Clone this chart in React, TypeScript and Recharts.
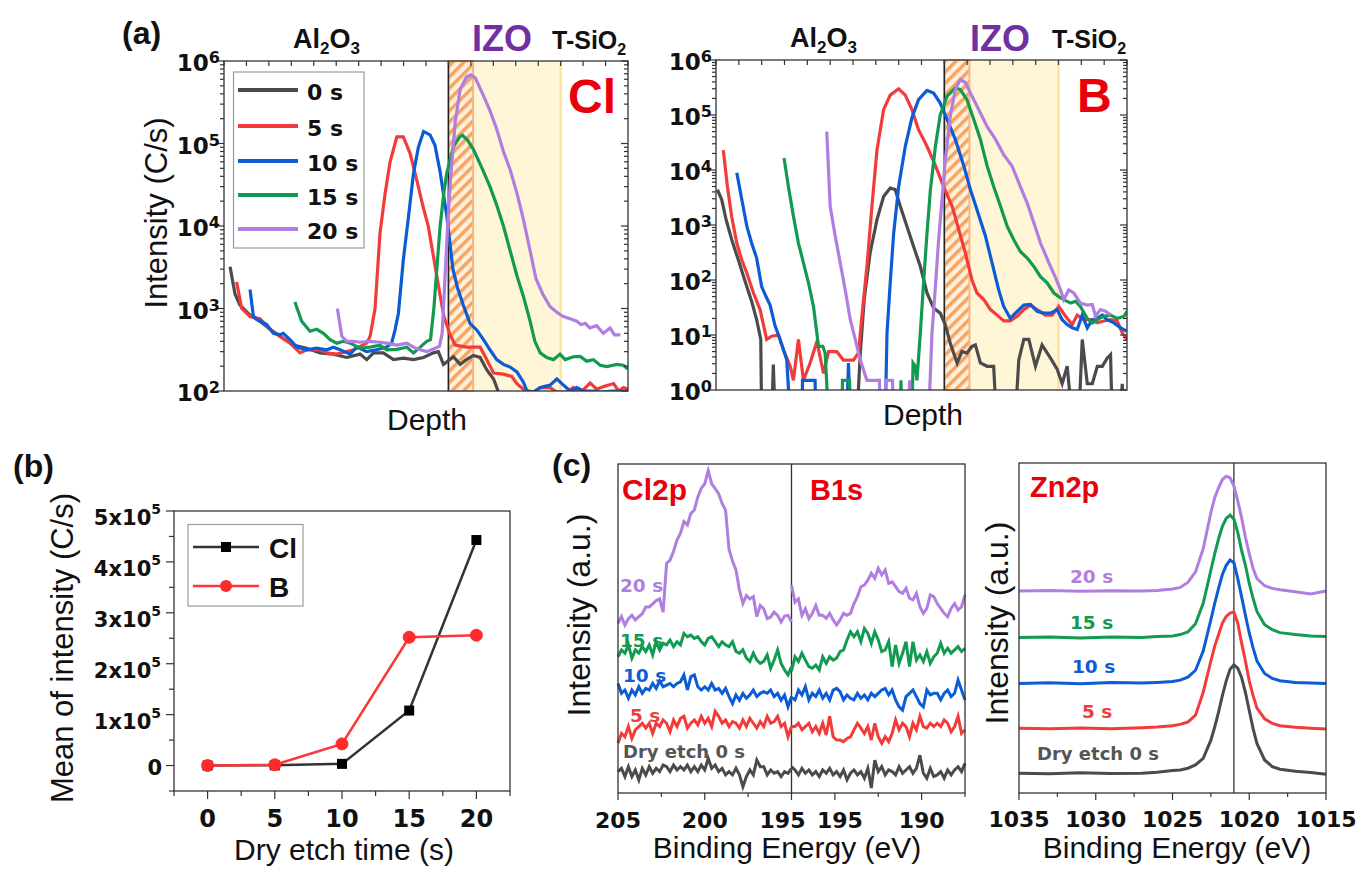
import React from 'react';
import { LineChart, Line, XAxis, YAxis, ReferenceArea, ReferenceLine } from 'recharts';

const SANS = '"Liberation Sans", Arial, Helvetica, sans-serif';
const DEJ = '"DejaVu Sans", Verdana, sans-serif';
const AX = '#333333';
const RED_LABEL = '#e8000b';
const IZO_COLOR = '#7030a0';

const TIMES = ['0 s', '5 s', '10 s', '15 s', '20 s'];
const TIME_COLORS = ['#4b4b4b', '#f23c3c', '#0b5cd5', '#119a50', '#b07ee0'];

// ---------- (a) SIMS depth profiles: [depth, intensity C/s] ----------
const CL_0 = [[0.27,3200],[0.49,1500],[0.71,1100],[1.16,830],[1.6,700],[2.05,560],[2.5,460],[3.09,360],[3.68,330],[4.28,290],[4.87,280],[5.47,255],[6.06,280],[6.36,240],[6.66,290],[7.1,290],[7.55,240],[7.99,250],[8.44,240],[8.89,255],[9.33,290],[9.55,300],[9.78,210],[10.22,260],[10.52,210],[10.8,240],[11.11,270],[11.41,255],[11.71,180],[12.01,140],[12.23,97],[12.45,60]];
const CL_5 = [[0.56,2100],[0.79,1000],[1.16,800],[1.6,750],[2.05,560],[2.5,460],[2.94,380],[3.39,290],[3.68,316],[4.28,316],[4.58,290],[5.02,280],[5.77,316],[6.36,380],[6.51,460],[6.73,1000],[6.95,8200],[7.18,25000],[7.4,60000],[7.7,120000],[7.99,120000],[8.29,76000],[8.59,36000],[8.85,18000],[9.1,10000],[9.35,4000],[9.6,1600],[9.8,800],[10.05,500],[10.3,360],[10.8,340],[11.41,340],[11.63,263],[12.01,165],[12.45,160],[12.82,150],[13.05,123],[13.34,105],[13.57,100],[13.79,97],[14.09,110],[14.53,110],[14.83,97],[15.27,97],[15.57,110],[15.87,95],[16.31,125],[16.61,105],[16.91,113],[17.36,123],[17.58,100],[17.8,110],[18,105]];
const CL_10 = [[1.16,1700],[1.31,800],[1.46,740],[1.9,640],[2.2,500],[2.5,480],[2.64,500],[2.94,420],[3.24,340],[3.68,316],[4.13,330],[4.58,316],[4.87,340],[5.17,316],[5.62,280],[5.91,340],[6.36,300],[6.8,316],[7.25,340],[7.47,380],[7.62,550],[7.77,870],[7.99,3900],[8.22,13000],[8.44,43000],[8.66,90000],[8.89,140000],[9.18,127000],[9.4,95000],[9.63,45000],[9.93,13000],[10.2,3000],[10.4,1800],[10.66,1100],[10.96,660],[11.26,550],[11.56,420],[11.85,316],[12.15,240],[12.45,210],[12.75,195],[13.05,170],[13.34,128],[13.5,100],[13.79,97],[14.09,110],[14.53,118],[14.83,140],[15.12,118],[15.42,100],[15.72,110],[16.01,100],[16.46,100],[16.76,97],[17.36,100],[18,100]];
const CL_15 = [[3.16,1200],[3.46,700],[3.83,530],[4.13,560],[4.43,500],[4.73,420],[5.02,380],[5.32,400],[5.62,380],[6.06,330],[6.51,340],[6.95,360],[7.25,316],[7.7,320],[8.14,340],[8.44,290],[8.74,340],[9.03,400],[9.2,420],[9.35,1000],[9.5,3500],[9.63,10000],[9.8,26000],[9.92,43000],[10.22,91000],[10.5,120000],[10.62,126000],[10.85,110000],[11.11,85000],[11.5,50000],[11.85,30000],[12.15,18000],[12.45,10000],[12.75,5000],[13.05,2500],[13.34,1400],[13.64,700],[13.85,400],[14.09,290],[14.38,255],[14.68,240],[14.97,280],[15.2,240],[15.57,260],[15.87,263],[16.16,230],[16.46,240],[16.76,205],[17.06,198],[17.5,210],[17.79,205],[17.94,190],[18,198]];
const CL_20 = [[5.05,1000],[5.25,460],[5.47,400],[5.77,400],[6.06,390],[6.51,400],[6.95,390],[7.25,380],[7.7,360],[8.14,380],[8.44,340],[8.74,316],[9.03,300],[9.41,330],[9.6,350],[9.72,500],[9.85,2500],[9.98,12000],[10.1,40000],[10.3,180000],[10.52,450000],[10.8,640000],[11.0,680000],[11.2,620000],[11.56,380000],[11.85,250000],[12.15,150000],[12.45,80000],[12.75,48000],[13.05,25000],[13.34,12000],[13.64,5000],[13.9,2300],[14.2,1500],[14.53,1050],[14.83,900],[15.12,800],[15.42,750],[15.72,700],[15.9,640],[16.1,660],[16.3,580],[16.6,620],[16.9,500],[17.2,580],[17.4,480],[17.66,480]];

const B_0 = [[0.06,4400],[0.25,2900],[0.44,1260],[0.69,540],[0.98,230],[1.27,96],[1.56,41],[1.78,19],[1.96,8.3],[2.0,0.3],[2.44,0.3],[2.51,2.9],[2.59,0.3],[6.17,0.3],[6.32,4.7],[6.49,44],[6.75,310],[7.05,1250],[7.34,3300],[7.63,4700],[7.85,4400],[8.07,2200],[8.36,950],[8.65,410],[8.95,176],[9.24,58],[9.53,31],[9.82,25],[10.04,15.5],[10.26,7.1],[10.56,3.1],[10.77,5],[10.99,4.7],[11.21,6.2],[11.36,6.6],[11.58,3.1],[11.87,2.7],[12.16,2.7],[12.28,0.3],[13.11,0.3],[13.26,3.5],[13.48,8.3],[13.7,8.3],[13.99,2.7],[14.28,6.6],[14.65,3.8],[14.94,2.4],[15.16,1.3],[15.38,2.7],[15.6,0.3],[15.89,0.3],[16.04,8.3],[16.26,1.3],[16.48,1.3],[16.7,2.7],[16.92,2.7],[17.13,3.8],[17.28,4.4],[17.35,0.3],[17.72,0.3],[17.79,1.3],[17.87,0.3]];
const B_5 = [[0.32,23000],[0.5,5000],[0.69,1400],[0.91,470],[1.13,230],[1.35,134],[1.64,58],[1.93,29],[2.22,8.3],[2.44,9.5],[2.73,10],[2.95,5.4],[3.25,2.7],[3.39,1.5],[3.61,8.3],[3.83,1.5],[4.12,3.1],[4.42,7.6],[4.71,2],[4.93,5],[5.29,5],[5.58,3.5],[6.02,3.5],[6.24,4.7],[6.39,22],[6.61,176],[6.83,2200],[7.05,23000],[7.34,125000],[7.63,230000],[8.0,300000],[8.29,230000],[8.58,125000],[8.87,54000],[9.24,27000],[9.61,12000],[9.97,5000],[10.34,2200],[10.63,830],[10.92,310],[11.21,100],[11.43,58],[11.73,44],[12.02,29],[12.31,23],[12.6,18],[12.89,18],[13.19,22],[13.48,29],[13.77,35],[14.06,29],[14.43,23],[14.72,23],[15.01,33],[15.31,22],[15.6,15.5],[15.82,23],[16.11,19],[16.4,19],[16.7,16.6],[16.99,18],[17.28,19],[17.57,18],[17.79,11],[18,8.3]];
const B_10 = [[0.91,8900],[1.13,2900],[1.35,950],[1.56,470],[1.78,250],[2.0,76],[2.19,50],[2.37,35],[2.59,14.5],[2.81,8.3],[3.1,3.5],[3.25,0.3],[3.76,0.3],[3.79,1.5],[4.34,1.5],[4.37,0.3],[5.73,0.3],[5.8,3.1],[5.88,0.3],[7.41,0.3],[7.49,11],[7.63,89],[7.78,700],[8.0,5000],[8.29,27000],[8.58,89000],[8.87,190000],[9.24,280000],[9.53,250000],[9.82,165000],[10.12,83000],[10.48,36000],[10.85,12000],[11.14,4400],[11.43,1900],[11.8,630],[12.09,205],[12.38,66],[12.6,33],[12.89,20],[13.19,27],[13.48,35],[13.77,36],[14.06,27],[14.36,25],[14.65,25],[14.94,29],[15.16,19],[15.38,15.5],[15.6,13.5],[15.82,12.6],[16.04,23],[16.26,13.5],[16.48,19],[16.7,20],[16.92,23],[17.13,19],[17.43,16.6],[17.72,13.5],[18,11.7]];
const B_15 = [[2.98,16500],[3.17,5000],[3.39,1450],[3.61,470],[3.83,205],[4.05,89],[4.27,33],[4.49,6.2],[4.68,6.2],[4.78,4.7],[4.93,0.3],[5.51,0.3],[5.54,1.5],[5.85,1.5],[5.88,0.3],[8.07,0.3],[8.1,1.5],[8.14,0.3],[8.58,0.3],[8.63,3.1],[8.73,2.7],[8.8,1.5],[8.95,11],[9.09,89],[9.24,700],[9.39,4400],[9.61,27000],[9.82,100000],[10.12,220000],[10.48,310000],[10.7,290000],[10.99,190000],[11.29,83000],[11.58,36000],[11.87,12000],[12.16,5000],[12.46,2200],[12.75,950],[13.04,540],[13.33,330],[13.63,250],[13.92,176],[14.21,115],[14.5,89],[14.8,58],[15.01,50],[15.23,44],[15.53,38],[15.75,41],[15.96,33],[16.26,20],[16.48,16.6],[16.7,19],[16.99,22],[17.28,23],[17.57,20],[17.87,22],[18,27]];
const B_20 = [[4.85,50000],[5.0,2200],[5.22,630],[5.44,205],[5.66,66],[5.88,19],[6.1,8.3],[6.32,3.5],[6.61,1.5],[7.16,1.5],[7.19,0.3],[7.41,0.3],[7.44,1.5],[7.73,1.5],[7.78,0.3],[8.44,0.3],[8.48,1.5],[8.54,0.3],[9.31,0.3],[9.46,11],[9.61,77],[9.75,540],[9.9,2900],[10.04,15000],[10.26,95000],[10.48,290000],[10.7,440000],[10.92,390000],[11.21,220000],[11.51,125000],[11.87,62000],[12.24,36000],[12.6,19000],[12.97,11700],[13.33,5000],[13.63,2500],[13.92,1100],[14.21,470],[14.58,205],[14.87,110],[15.09,66],[15.23,44],[15.45,66],[15.67,58],[15.96,38],[16.26,35],[16.48,36],[16.62,22],[16.84,29],[17.06,27],[17.28,23]];

const DEPTH_TICKS = [0,1,2,3,4,5,6,7,8,9,10,11,12,13,14,15,16,17,18];
const IZO_START = 10, IZO_HATCH_END = 11.1, IZO_END = 15;

// ---------- (b) mean intensity ----------
const ETCH_TIME = [0, 5, 10, 15, 20];
const MEAN_CL = [0, 500, 3300, 108000, 443000];
const MEAN_B = [0, 1500, 42500, 252000, 256000];
const B_X_TICKS = [-2.5, 0, 2.5, 5, 7.5, 10, 12.5, 15, 17.5, 20, 22.5];
const B_Y_TICKS = [-50000, 0, 50000, 100000, 150000, 200000, 250000, 300000, 350000, 400000, 450000, 500000];

// ---------- (c) XPS Cl2p / B1s (offset spectra, a.u.) ----------
const GRID_CL2P = [205,204.8,204.6,204.4,204.2,204,203.8,203.6,203.4,203.2,203,202.8,202.6,202.4,202.2,202,201.8,201.6,201.4,201.2,201,200.8,200.6,200.4,200.2,200,199.8,199.6,199.4,199.2,199,198.8,198.6,198.4,198.2,198,197.8,197.6,197.4,197.2,197,196.8,196.6,196.4,196.2,196,195.8,195.6,195.4,195.2,195];
const GRID_B1S = [197.5,197.3,197.1,196.9,196.7,196.5,196.3,196.1,195.9,195.7,195.5,195.3,195.1,194.9,194.7,194.5,194.3,194.1,193.9,193.7,193.5,193.3,193.1,192.9,192.7,192.5,192.3,192.1,191.9,191.7,191.5,191.3,191.1,190.9,190.7,190.5,190.3,190.1,189.9,189.7,189.5,189.3,189.1,188.9,188.7,188.5,188.3,188.1,187.9,187.7,187.5];

const CL2P_0 = [6.5,7.5,5,8,5,7,4,7.5,5.5,8,6,7.5,6.5,8.5,8,6.5,8.5,7,8,7,8.5,6.5,8,6.5,8.5,7,10.5,7.5,8.5,6.5,7.5,5.5,6.5,5.5,7.5,5.5,1.9,5,7,5.5,10,8,8,5.5,7,6,6.5,5,6.5,6,7.5];
const CL2P_5 = [15.1,18.1,17.1,20.2,16.6,19.2,20.2,21.2,19.7,21.2,18.1,21.2,20.2,22.2,21.2,18.6,22.2,20.2,22.7,23.3,19.7,21.2,22.2,20.7,23.3,21.2,22.7,20.2,24.8,23.3,21.2,22.2,20.2,21.7,21.2,19.7,22.2,20.2,22.7,21.2,19.7,21.7,20.2,23.3,21.2,21.7,23.3,20.2,21.2,17.1,20.2];
const CL2P_10 = [33.3,30.3,31.3,28.8,31.3,29.8,32.3,30.3,31.8,31.3,33.3,31.8,34.1,32.3,32.8,33.3,32.3,33.3,33.8,35.9,31.3,35.4,35.9,32.3,31.3,32.3,31.3,33.3,31.3,31.8,30.3,31.8,29.3,27.2,29.8,28.2,30.3,28.8,29.8,31.3,29.3,30.3,30.8,30.3,31.3,29.3,30.3,28.2,29.8,26.2,29.3];
const CL2P_15 = [41.4,43.5,42.5,45,41,43.5,42.5,44.5,43,45,42,46,43.5,45.5,45,46.5,44.5,46,45,48.5,47.5,48,47,47.5,46,45,47,47.5,46,44.5,46,45,44.5,46,43,42.5,43.5,41,40,42.5,40.4,39.4,40,42,37.9,40.4,43.5,39.4,37.4,35.9,38.4];
const CL2P_20 = [51.6,53.6,51,53,54,52.6,53.6,54.5,56.5,56.5,57.5,58.5,59,55,69.8,70.8,73.4,76.9,79,82.5,81.5,85,86,90,92.6,94,98,94,92.5,91,88,86,74,70.5,67.8,61.7,57.6,60,59,59.7,53.6,57,56,53,53.5,55,54,52,53.8,54,52];

const B1S_0 = [8,7,5.5,7.5,6,7,5.5,6.5,5,7,6,7.5,5.5,6.5,5,7,4,6,7,5.5,6.5,4.5,7.5,1.5,10,6.5,8,5.5,7,6.5,5.5,8,6,7,8,6,7.5,11.5,6,4.5,7.5,5,5.5,6.5,4.5,7,5.5,7,8,6.5,9];
const B1S_5 = [20.2,20.2,21.2,19.2,20.2,21.2,18.6,20.2,18.1,21.2,17.6,23.3,17.1,16.1,16.1,15.6,16.6,17.1,19.2,21.2,19.7,18.1,20.2,16.1,21.2,17.1,15.1,17.1,15.6,18.1,22.2,19.2,21.2,20.2,17.1,21.2,19.2,23.3,20.2,19.7,21.2,20.2,21.2,20.2,22.2,21.2,18.6,20.2,23.3,18.1,19.2];
const B1S_10 = [29,28.3,31.3,29.8,32.3,28.3,30.3,29.3,31.3,28.8,30.3,28.3,31.3,31.8,30.8,28.3,29.8,28.8,28.3,30.3,28.8,29.8,28.3,30.3,29.3,30.3,31.3,31.8,29.8,31.3,28.3,26.2,25.2,29.3,30.3,31.3,29.3,27.2,26.2,31.3,29.8,30.3,30.3,28.3,30.3,31.3,29.3,30.3,34.3,31.3,28.3];
const B1S_15 = [37,41.4,40,42.5,40.4,38.4,37.9,38.9,37.4,41.4,39.4,41.4,40.4,41,43,43.5,46.5,49,47.5,49,46,50,48.5,45.5,49,46.5,43,43.5,46,38.4,45,39.4,42.5,46,38.4,46,40.4,42,40,43,39.4,41.4,42.5,45.5,42.5,44,42.5,43.5,44.5,43,44];
const B1S_20 = [63.2,58,59,54,56,53,54.6,57,54,54,53.1,54.6,52.6,51.1,52.6,54.6,54,54.6,57.6,59.7,62.7,63.2,64.7,66.8,65.2,68.3,66.3,67.8,63.7,64.2,62.7,61.2,60.7,62.2,59.2,58.7,60.7,56.6,54.6,56.1,60.2,59.7,57.6,56.1,54.6,53.6,56.1,57.6,55.6,56.6,60.2];

const C_TICKS = [0, 2.5, 5, 7.5, 10, 12.5, 15, 17.5, 20];
const C_TICK_LABELS: Record<string, string> = { '0': '205', '5': '200', '10': '195', '12.5': '195', '17.5': '190' };

// ---------- (c) XPS Zn2p ----------
const GRID_ZN = [1035,1033,1031,1029,1027,1026,1025,1024.5,1024,1023.5,1023,1022.5,1022.25,1022,1021.75,1021.5,1021.25,1021,1020.75,1020.5,1020.25,1020,1019.75,1019.5,1019,1018.5,1018,1017,1016,1015];
const ZN_0 = [6.0,5.8,6.1,5.9,6.0,6.3,6.8,7.0,7.5,8.5,10.5,16,20,24.5,29.5,34,37.5,38.8,37.8,35,30.5,25,19.5,15,10,8,7.2,6.6,6.2,5.7];
const ZN_5 = [19.6,19.5,19.7,19.5,19.8,20.0,20.4,20.8,21.5,23.6,30.5,40,44.5,48,51.5,53.5,54.5,54.8,51.5,45.5,40,34,29.5,25.7,22.5,21.1,20.4,19.9,19.6,19.4];
const ZN_10 = [33.2,33.4,33.1,33.5,33.3,33.5,33.8,34.2,35.1,37.2,43,52.5,57.5,62,66.2,69,70.6,69.8,65,59.5,53.9,48.5,44,40,36.2,34.7,34,33.5,33.3,33.2];
const ZN_15 = [47.1,47.3,47.0,47.3,47.1,47.4,47.6,48,48.8,51.3,57.5,67.5,72.5,77,80.8,83.2,84.2,83,79,73.5,69,63.5,59,55,51,49.5,48.6,48,47.6,47.4];
const ZN_20 = [61.2,61.4,61.1,61.3,61.2,61.4,61.8,62.3,63.8,67,74,85,89.5,92.5,95,96,95.5,93,88.5,83.5,77.5,72.5,68,65,62.8,62,61.6,61,60.3,61.2];
const ZN_TICKS = [1015, 1017.5, 1020, 1022.5, 1025, 1027.5, 1030, 1032.5, 1035];
const ZN_REF = 1021;

// ---------- layout ----------
const A1 = { x: 224, y: 61, w: 404, h: 330 };
const A2 = { x: 716, y: 60, w: 411, h: 330 };
const PB = { x: 174, y: 511, w: 336, h: 280 };
const C1 = { x: 618, y: 464, w: 347, h: 329 };
const C2 = { x: 1019, y: 463, w: 307, h: 330 };
const ML = 100, MT = 12, MR = 30, MB = 60;

const toPts = (arr: number[][]) => arr.map(([d, v]) => ({ d, v }));

function logTicks(lo: number, hi: number) {
  const out: number[] = [];
  const e0 = Math.round(Math.log10(lo));
  const e1 = Math.round(Math.log10(hi));
  for (let e = e0; e < e1; e++) for (let m = 1; m < 10; m++) out.push(m * Math.pow(10, e));
  out.push(hi);
  return out;
}

const logTick = (pw: number) => (p: any) => {
  const v = p.payload.value;
  const lg = Math.log10(v);
  const e = Math.round(lg);
  const major = Math.abs(lg - e) < 1e-6;
  const L = major ? 7 : 4;
  return (
    <g>
      <line x1={p.x - L} y1={p.y} x2={p.x} y2={p.y} stroke={AX} strokeWidth={1.2} />
      <line x1={p.x + pw - L} y1={p.y} x2={p.x + pw} y2={p.y} stroke={AX} strokeWidth={1.2} />
      {major ? (
        <text x={p.x - 4} y={p.y + 10} textAnchor="end" fontFamily={DEJ} fontWeight="bold" fontSize={23} fill="#111">
          10<tspan dy={-8} fontSize={16}>{e}</tspan>
        </text>
      ) : null}
    </g>
  );
};

const depthTick = (ph: number) => (p: any) => (
  <line x1={p.x} y1={p.y - ph} x2={p.x} y2={p.y - ph + 5} stroke={AX} strokeWidth={1.2} />
);

function ChartBox({ r, children, data }: any) {
  return (
    <div style={{ position: 'absolute', left: r.x - ML, top: r.y - MT }}>
      <LineChart width={r.w + ML + MR} height={r.h + MT + MB} data={data} margin={{ top: MT, right: MR, bottom: 0, left: 0 }}>
        {children}
      </LineChart>
    </div>
  );
}

function SimsChart({ r, yMin, series }: any) {
  return (
    <ChartBox r={r}>
      <XAxis dataKey="d" type="number" domain={[0, 18]} ticks={DEPTH_TICKS} interval={0} height={MB}
        axisLine={false} tickLine={false} tickSize={0} tickMargin={0} tick={depthTick(r.h)} allowDataOverflow />
      <YAxis type="number" scale="log" domain={[yMin, 1e6]} ticks={logTicks(yMin, 1e6)} interval={0} width={ML}
        axisLine={false} tickLine={false} tickSize={0} tickMargin={0} tick={logTick(r.w)} allowDataOverflow />
      <ReferenceArea x1={IZO_START} x2={IZO_END} y1={yMin} y2={1e6} fill="#fff5d7" fillOpacity={1} stroke="none" />
      <ReferenceLine x={IZO_END} stroke="#ffe39a" strokeWidth={2.5} />
      <ReferenceArea x1={IZO_START} x2={IZO_HATCH_END} y1={yMin} y2={1e6} fill="url(#hatch)" fillOpacity={1} stroke="#f9b682" strokeWidth={2} />
      <ReferenceLine x={IZO_START} stroke="#222" strokeWidth={1.5} />
      {series.map((s: number[][], i: number) => (
        <Line key={i} data={toPts(s)} dataKey="v" type="linear" stroke={TIME_COLORS[i]} strokeWidth={3.2}
          dot={false} isAnimationActive={false} />
      ))}
    </ChartBox>
  );
}

const meanData = ETCH_TIME.map((t, i) => ({ t, cl: MEAN_CL[i], b: MEAN_B[i] }));

const bXTick = (p: any) => {
  const v = p.payload.value;
  const major = v % 5 === 0;
  return (
    <g>
      <line x1={p.x} y1={p.y} x2={p.x} y2={p.y + (major ? 8 : 5)} stroke={AX} strokeWidth={1.2} />
      {major ? (
        <text x={p.x} y={p.y + 36} textAnchor="middle" fontFamily={DEJ} fontWeight="bold" fontSize={24} fill="#111">{v}</text>
      ) : null}
    </g>
  );
};

const bYTick = (p: any) => {
  const v = p.payload.value;
  const major = v % 100000 === 0;
  return (
    <g>
      <line x1={p.x - (major ? 8 : 5)} y1={p.y} x2={p.x} y2={p.y} stroke={AX} strokeWidth={1.2} />
      {major && v === 0 ? (
        <text x={p.x - 12} y={p.y + 9} textAnchor="end" fontFamily={DEJ} fontWeight="bold" fontSize={21} fill="#111">0</text>
      ) : null}
      {major && v !== 0 ? (
        <text x={p.x - 13} y={p.y + 14} textAnchor="end" fontFamily={DEJ} fontWeight="bold" fontSize={21} fill="#111">
          {v / 100000}x10<tspan dy={-11} fontSize={14}>5</tspan>
        </text>
      ) : null}
    </g>
  );
};

function MeanChart() {
  return (
    <ChartBox r={PB} data={meanData}>
      <XAxis dataKey="t" type="number" domain={[-2.5, 22.5]} ticks={B_X_TICKS} interval={0} height={MB}
        axisLine={false} tickLine={false} tickSize={0} tickMargin={0} tick={bXTick} />
      <YAxis type="number" domain={[-50000, 500000]} ticks={B_Y_TICKS} interval={0} width={ML}
        axisLine={false} tickLine={false} tickSize={0} tickMargin={0} tick={bYTick} />
      <Line dataKey="cl" type="linear" stroke="#333" strokeWidth={2.5} isAnimationActive={false}
        dot={(d: any) => <rect key={`c${d.index}`} x={d.cx - 5} y={d.cy - 5} width={10} height={10} fill="#000" />} />
      <Line dataKey="b" type="linear" stroke="#ff3535" strokeWidth={2.5} isAnimationActive={false}
        dot={{ r: 6, fill: '#ff2a2a', stroke: '#ff2a2a', strokeWidth: 1 }} />
    </ChartBox>
  );
}

const cTick = (p: any) => {
  const u = p.payload.value;
  const lab = C_TICK_LABELS[String(u)];
  const dx = u === 10 ? -9 : u === 12.5 ? 5 : 0;
  return (
    <g>
      <line x1={p.x} y1={p.y} x2={p.x} y2={p.y + (lab ? 7 : 4)} stroke={AX} strokeWidth={1.2} />
      {lab ? (
        <text x={p.x + dx} y={p.y + 35} textAnchor="middle" fontFamily={DEJ} fontWeight="bold" fontSize={22} fill="#111">{lab}</text>
      ) : null}
    </g>
  );
};

const znTick = (p: any) => {
  const v = p.payload.value;
  const major = v % 5 === 0;
  return (
    <g>
      <line x1={p.x} y1={p.y} x2={p.x} y2={p.y + (major ? 7 : 4)} stroke={AX} strokeWidth={1.2} />
      {major ? (
        <text x={p.x} y={p.y + 34} textAnchor="middle" fontFamily={DEJ} fontWeight="bold" fontSize={22} fill="#111">{v}</text>
      ) : null}
    </g>
  );
};

const CL2P_SERIES = [CL2P_0, CL2P_5, CL2P_10, CL2P_15, CL2P_20];
const B1S_SERIES = [B1S_0, B1S_5, B1S_10, B1S_15, B1S_20];
const ZN_SERIES = [ZN_0, ZN_5, ZN_10, ZN_15, ZN_20];

function XpsLeftChart() {
  return (
    <ChartBox r={C1}>
      <XAxis dataKey="d" type="number" domain={[0, 20]} ticks={C_TICKS} interval={0} height={MB}
        axisLine={false} tickLine={false} tickSize={0} tickMargin={0} tick={cTick} />
      <YAxis type="number" domain={[0, 100]} width={ML} tick={false} axisLine={false} tickLine={false} />
      <ReferenceLine x={10} stroke={AX} strokeWidth={1.3} />
      {CL2P_SERIES.map((vals, i) => (
        <Line key={`l${i}`} data={vals.map((v, j) => ({ d: 205 - GRID_CL2P[j], v }))} dataKey="v" type="linear"
          stroke={TIME_COLORS[i]} strokeWidth={3} dot={false} isAnimationActive={false} />
      ))}
      {B1S_SERIES.map((vals, i) => (
        <Line key={`r${i}`} data={vals.map((v, j) => ({ d: 10 + (197.5 - GRID_B1S[j]), v }))} dataKey="v" type="linear"
          stroke={TIME_COLORS[i]} strokeWidth={3} dot={false} isAnimationActive={false} />
      ))}
    </ChartBox>
  );
}

function ZnChart() {
  return (
    <ChartBox r={C2}>
      <XAxis dataKey="d" type="number" domain={[1015, 1035]} reversed ticks={ZN_TICKS} interval={0} height={MB}
        axisLine={false} tickLine={false} tickSize={0} tickMargin={0} tick={znTick} />
      <YAxis type="number" domain={[0, 100]} width={ML} tick={false} axisLine={false} tickLine={false} />
      <ReferenceLine x={ZN_REF} stroke={AX} strokeWidth={1.3} />
      {ZN_SERIES.map((vals, i) => (
        <Line key={i} data={vals.map((v, j) => ({ d: GRID_ZN[j], v }))} dataKey="v" type="linear"
          stroke={TIME_COLORS[i]} strokeWidth={3} dot={false} isAnimationActive={false} />
      ))}
    </ChartBox>
  );
}

const T = (p: any) => <text fontFamily={SANS} fill="#111" {...p} />;

function Sub({ x, y, base, sub, tail, size, subSize, color }: any) {
  return (
    <text x={x} y={y} fontFamily={SANS} fontWeight="bold" fontSize={size} fill={color || '#111'}>
      {base}<tspan fontSize={subSize} dy={6}>{sub}</tspan>
      {tail ? <tspan dy={-6}>{tail}</tspan> : null}
      {tail ? <tspan fontSize={subSize} dy={6}>3</tspan> : null}
    </text>
  );
}

function Overlay() {
  const rows = [90, 126, 161, 195, 229];
  const cLab = [
    { t: 'Dry etch 0 s', x1: 623, y1: 758, x2: 1037, y2: 760 },
    { t: '5 s', x1: 630, y1: 722, x2: 1082, y2: 718 },
    { t: '10 s', x1: 623, y1: 682, x2: 1072, y2: 673 },
    { t: '15 s', x1: 620, y1: 647, x2: 1070, y2: 629 },
    { t: '20 s', x1: 620, y1: 592, x2: 1070, y2: 583 },
  ];
  return (
    <svg width={1357} height={870} style={{ position: 'absolute', left: 0, top: 0, pointerEvents: 'none' }}>
      {[A1, A2, PB, C1, C2].map((r, i) => (
        <rect key={i} x={r.x} y={r.y} width={r.w} height={r.h} fill="none" stroke={AX} strokeWidth={1.3} />
      ))}
      {/* (a) */}
      <T x={122} y={44} fontWeight="bold" fontSize={32}>(a)</T>
      <Sub x={293} y={48} base="Al" sub="2" tail="O" size={27} subSize={17} />
      <T x={472} y={51} fontWeight="bold" fontSize={36} fill={IZO_COLOR}>IZO</T>
      <Sub x={552} y={49} base="T-SiO" sub="2" size={25} subSize={16} />
      <T x={568} y={113} fontWeight="bold" fontSize={48} fill={RED_LABEL}>Cl</T>
      <Sub x={790} y={47} base="Al" sub="2" tail="O" size={27} subSize={17} />
      <T x={970} y={51} fontWeight="bold" fontSize={36} fill={IZO_COLOR}>IZO</T>
      <Sub x={1052} y={48} base="T-SiO" sub="2" size={25} subSize={16} />
      <T x={1077} y={112} fontWeight="bold" fontSize={48} fill={RED_LABEL}>B</T>
      <T transform="translate(167,213) rotate(-90)" textAnchor="middle" fontSize={31}>Intensity (C/s)</T>
      <T x={427} y={430} textAnchor="middle" fontSize={30}>Depth</T>
      <T x={923} y={425} textAnchor="middle" fontSize={30}>Depth</T>
      <rect x={233.5} y={72} width={130.5} height={176} fill="#fff" stroke="#9a9a9a" strokeWidth={1.2} />
      {TIMES.map((t, i) => (
        <g key={t}>
          <line x1={238} x2={298} y1={rows[i]} y2={rows[i]} stroke={TIME_COLORS[i]} strokeWidth={4} />
          <text x={307} y={rows[i] + 10} fontFamily={DEJ} fontWeight="bold" fontSize={22} fill="#111">{t}</text>
        </g>
      ))}
      {/* (b) */}
      <T x={13} y={477} fontWeight="bold" fontSize={32}>(b)</T>
      <T transform="translate(73,648) rotate(-90)" textAnchor="middle" fontSize={31}>Mean of intensity (C/s)</T>
      <T x={344} y={860} textAnchor="middle" fontSize={30}>Dry etch time (s)</T>
      <rect x={188} y={524.5} width={115} height={81.5} fill="#fff" stroke="#9a9a9a" strokeWidth={1.2} />
      <line x1={193} x2={259} y1={547} y2={547} stroke="#333" strokeWidth={2.5} />
      <rect x={221} y={542} width={10} height={10} fill="#000" />
      <T x={269} y={558} fontWeight="bold" fontSize={28}>Cl</T>
      <line x1={193} x2={259} y1={586} y2={586} stroke="#ff3535" strokeWidth={2.5} />
      <circle cx={226} cy={586} r={6} fill="#ff2a2a" />
      <T x={269} y={597} fontWeight="bold" fontSize={28}>B</T>
      {/* (c) */}
      <T x={552} y={476} fontWeight="bold" fontSize={32}>(c)</T>
      <T transform="translate(590,615) rotate(-90)" textAnchor="middle" fontSize={32}>Intensity (a.u.)</T>
      <T transform="translate(1008,623) rotate(-90)" textAnchor="middle" fontSize={32}>Intensity (a.u.)</T>
      <T x={787} y={858} textAnchor="middle" fontSize={30}>Binding Energy (eV)</T>
      <T x={1177} y={858} textAnchor="middle" fontSize={30}>Binding Energy (eV)</T>
      <T x={622} y={500} fontWeight="bold" fontSize={30} fill={RED_LABEL}>Cl2p</T>
      <T x={810} y={500} fontWeight="bold" fontSize={29} fill={RED_LABEL}>B1s</T>
      <T x={1030} y={497} fontWeight="bold" fontSize={29} fill={RED_LABEL}>Zn2p</T>
      {cLab.map((c, i) => (
        <g key={c.t}>
          <text x={c.x1} y={c.y1} fontFamily={DEJ} fontWeight="bold" fontSize={i === 0 ? 18 : 18.5} fill={i === 0 ? '#555' : TIME_COLORS[i]}>{c.t}</text>
          <text x={c.x2} y={c.y2} fontFamily={DEJ} fontWeight="bold" fontSize={i === 0 ? 18 : 18.5} fill={i === 0 ? '#555' : TIME_COLORS[i]}>{c.t}</text>
        </g>
      ))}
    </svg>
  );
}

export default function App() {
  return (
    <div style={{ position: 'absolute', left: 0, top: 0, width: 1357, height: 870, background: '#fff', overflow: 'hidden' }}>
      <svg width={0} height={0} style={{ position: 'absolute' }}>
        <defs>
          <pattern id="hatch" patternUnits="userSpaceOnUse" width={8} height={8} patternTransform="rotate(45)">
            <rect width={8} height={8} fill="#fff0dc" />
            <rect width={3.5} height={8} fill="#f7a461" />
          </pattern>
        </defs>
      </svg>
      <SimsChart r={A1} yMin={100} series={[CL_0, CL_5, CL_10, CL_15, CL_20]} />
      <SimsChart r={A2} yMin={1} series={[B_0, B_5, B_10, B_15, B_20]} />
      <MeanChart />
      <XpsLeftChart />
      <ZnChart />
      <Overlay />
    </div>
  );
}
